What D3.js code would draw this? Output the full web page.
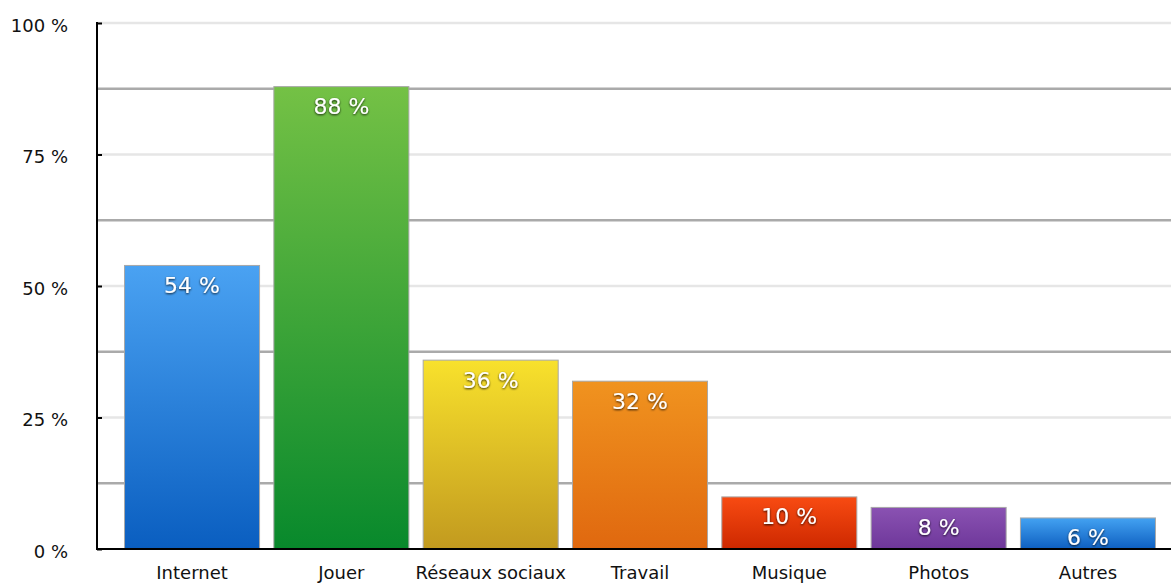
<!DOCTYPE html>
<html>
<head>
<meta charset="utf-8">
<script src="https://cdn.jsdelivr.net/npm/d3@7"></script>
<style>
  html, body { margin: 0; padding: 0; background: #fff; }
  svg { display: block; }
  text { font-family: "DejaVu Sans", "Liberation Sans", Arial, sans-serif; }
</style>
</head>
<body>
<svg id="chart" width="1171" height="584"></svg>
<script>
// Usages (share of respondents, %)
const categories = ["Internet", "Jouer", "Réseaux sociaux", "Travail", "Musique", "Photos", "Autres"];
const values = [54, 88, 36, 32, 10, 8, 6];
// Gradient stops per bar: [top, bottom]
const colorTop = ["#4aa2f2", "#74c145", "#f8e12c", "#f0931f", "#f84b12", "#8a52b2", "#43a2f2"];
const colorBottom = ["#0a5ec0", "#08892c", "#c29a1f", "#e0680f", "#cd2800", "#6e379a", "#0e5fc0"];
const majorTicks = [0, 25, 50, 75, 100];
const minorTicks = [12.5, 37.5, 62.5, 87.5];

const svg = d3.select("#chart");
const W = 1171;
const axisX = 97;
const FONT = "'DejaVu Sans', 'Liberation Sans', Arial, sans-serif";

const y = d3.scaleLinear().domain([0, 100]).range([549, 23]);
const x = d3.scaleBand().domain(categories).range([axisX, 1183])
  .paddingInner(0.089).paddingOuter(0.181);

const defs = svg.append("defs");
categories.forEach((c, i) => {
  const g = defs.append("linearGradient")
    .attr("id", "grad" + i).attr("x1", 0).attr("y1", 0).attr("x2", 0).attr("y2", 1);
  g.append("stop").attr("offset", "0%").attr("stop-color", colorTop[i]);
  g.append("stop").attr("offset", "100%").attr("stop-color", colorBottom[i]);
});
const shadow = defs.append("filter").attr("id", "shadow")
  .attr("x", "-20%").attr("y", "-30%").attr("width", "140%").attr("height", "160%");
shadow.append("feDropShadow").attr("dx", 0).attr("dy", 1).attr("stdDeviation", 1)
  .attr("flood-color", "#000").attr("flood-opacity", 0.85);

// Gridlines
svg.append("g").selectAll("line").data(majorTicks.filter(d => d > 0)).join("line")
  .attr("x1", axisX).attr("x2", W)
  .attr("y1", d => y(d)).attr("y2", d => y(d))
  .attr("stroke", "#e6e6e6").attr("stroke-width", 2.5);
svg.append("g").selectAll("line").data(minorTicks).join("line")
  .attr("x1", axisX).attr("x2", W)
  .attr("y1", d => y(d)).attr("y2", d => y(d))
  .attr("stroke", "#aaaaaa").attr("stroke-width", 2.5);

// Bars
svg.append("g").selectAll("rect").data(values).join("rect")
  .attr("x", (d, i) => x(categories[i]) + 0.5)
  .attr("y", d => y(d) + 0.5)
  .attr("width", x.bandwidth() - 1)
  .attr("height", d => y(0) - y(d) - 0.5)
  .attr("fill", (d, i) => `url(#grad${i})`)
  .attr("stroke", "#a8a8a8").attr("stroke-width", 1);

// Value labels inside bars
svg.append("g").selectAll("text").data(values).join("text")
  .attr("x", (d, i) => x(categories[i]) + x.bandwidth() / 2)
  .attr("y", d => y(d) + 28)
  .attr("text-anchor", "middle")
  .attr("font-size", 22)
  .attr("fill", "#fff")
  .attr("filter", "url(#shadow)")
  .text(d => d + " %");

// Y axis
const yAxis = d3.axisLeft(y).tickValues(majorTicks).tickFormat(d => d + " %").tickSize(0).tickPadding(0);
const yg = svg.append("g").attr("transform", `translate(${axisX},0)`).call(yAxis);
yg.select(".domain").remove();
yg.selectAll("text").attr("x", -29).attr("dy", "0.45em").attr("font-size", 18).attr("fill", "#111")
  .style("font-family", FONT);
yg.selectAll(".tick").append("line").attr("x1", 0).attr("x2", 5)
  .attr("stroke", "#000").attr("stroke-width", 2);
svg.append("line").attr("x1", axisX).attr("x2", axisX)
  .attr("y1", y(100) - 1).attr("y2", y(0) + 1)
  .attr("stroke", "#000").attr("stroke-width", 2);

// X axis
const xAxis = d3.axisBottom(x).tickSize(0).tickPadding(0);
const xg = svg.append("g").attr("transform", `translate(0,${y(0)})`).call(xAxis);
xg.select(".domain").remove();
xg.selectAll("text").attr("y", 30).attr("dy", 0).attr("font-size", 18).attr("fill", "#111")
  .style("font-family", FONT);
svg.append("line").attr("x1", axisX - 1).attr("x2", W)
  .attr("y1", y(0)).attr("y2", y(0))
  .attr("stroke", "#000").attr("stroke-width", 2);
</script>
</body>
</html>
